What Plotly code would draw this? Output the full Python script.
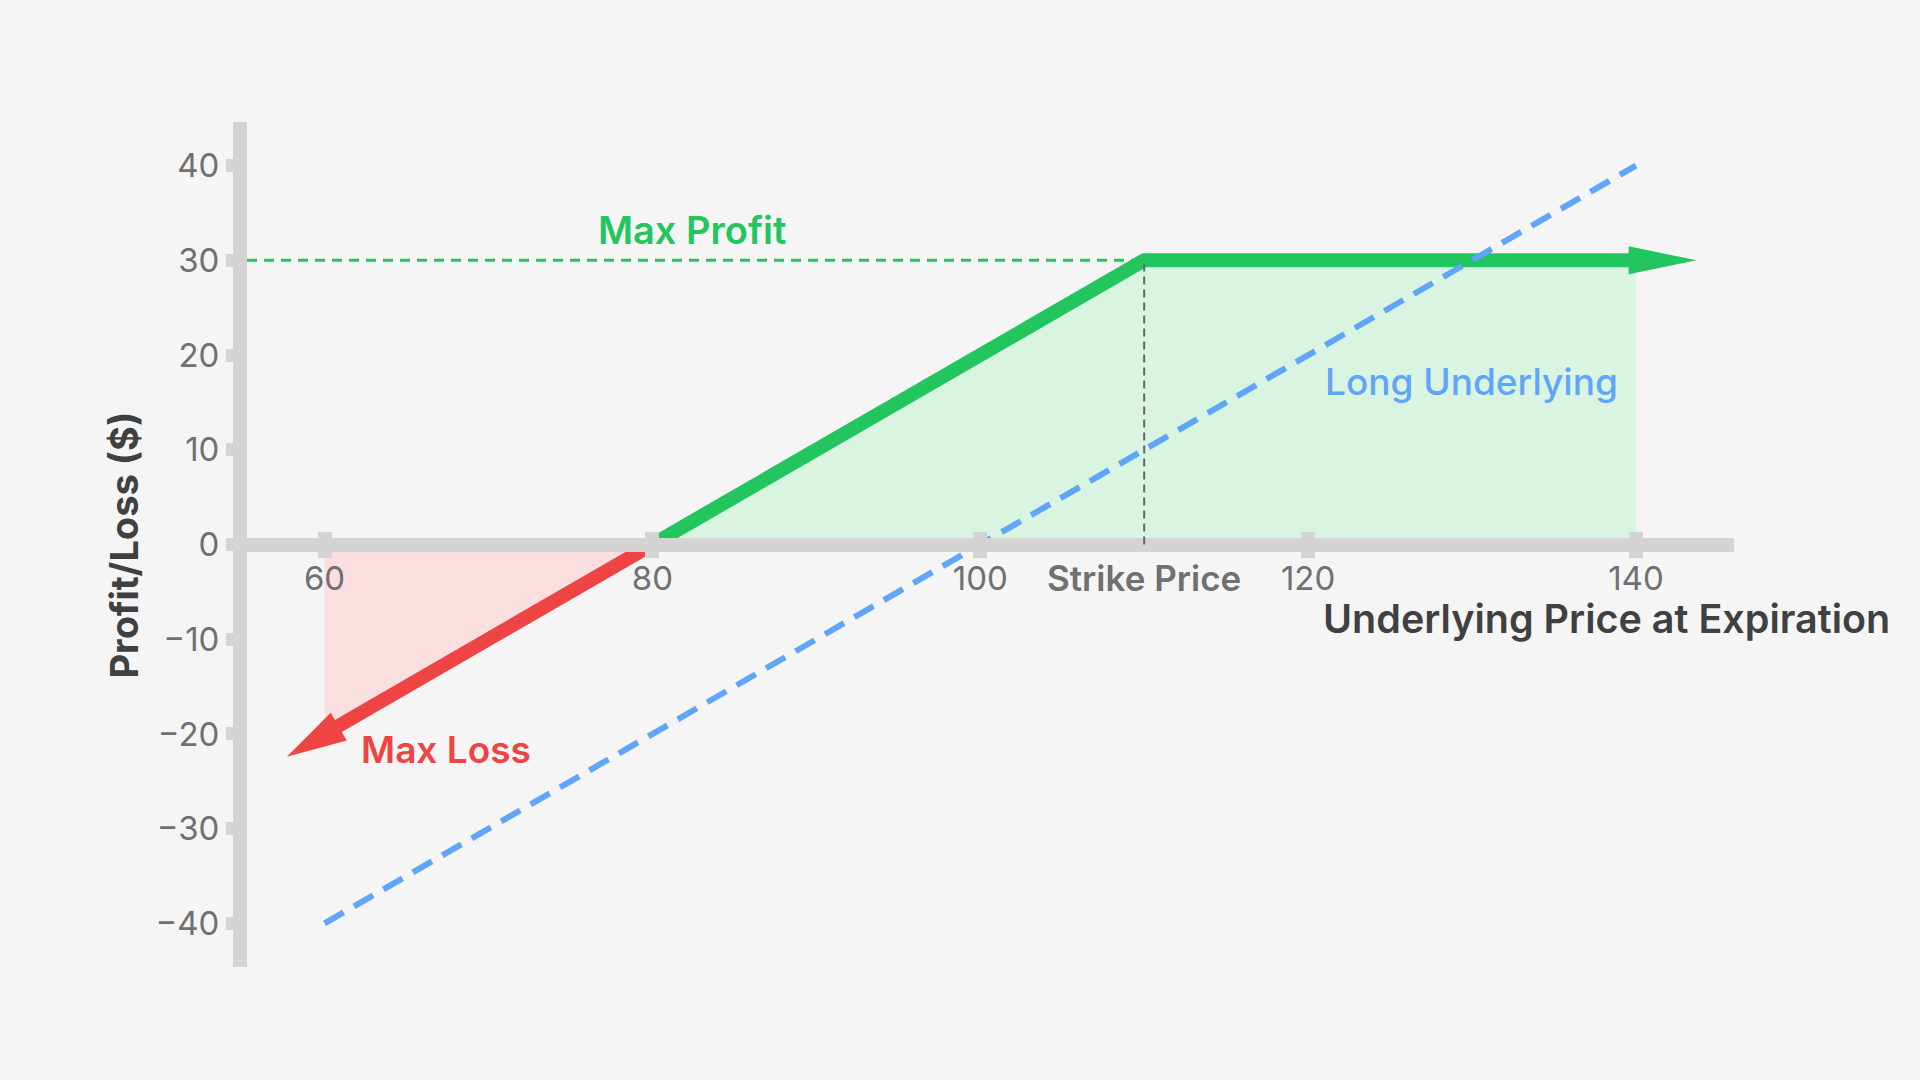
import plotly.graph_objects as go
import numpy as np

# ---------------- data ----------------
strategy_x = [80, 110, 140]          # payoff of the position (profit zone)
strategy_y = [0, 30, 30]
loss_x = [80, 60]                    # loss leg
loss_y = [0, -20]
underlying_x = [60, 140]             # long underlying reference line
underlying_y = [-40, 40]
strike_price = 110
max_profit = 30
green_arrow_tip = [143.7, 30]
red_arrow_tip = [57.7, -22.4]
x_ticks = [60, 80, 100, 120, 140]
y_ticks = [-40, -30, -20, -10, 0, 10, 20, 30, 40]

# ---------------- layout constants ----------------
W, H = 1920, 1080
ML, MR, MT, MB = 247, 186, 122, 113
X_RANGE = [55.27, 145.98]
Y_RANGE = [-44.6, 44.6]
SX = (W - ML - MR) / (X_RANGE[1] - X_RANGE[0])   # px per x unit
SY = (H - MT - MB) / (Y_RANGE[1] - Y_RANGE[0])   # px per y unit

GREEN = "#22c55e"
RED = "#ef4444"
BLUE = "#60a5fa"
AXIS = "#d4d4d4"
TICK = "#707070"
DARK = "#404040"
BG = "#f5f5f5"
FONT = "Inter"


def arrow_head(tip, frm, length_px, width_px):
    dx = (tip[0] - frm[0]) * SX
    dy = (tip[1] - frm[1]) * SY
    n = np.hypot(dx, dy)
    ux, uy = dx / n, dy / n
    px, py = -uy, ux
    bx = -ux * length_px
    by = -uy * length_px
    pts = [
        (0, 0),
        (bx + px * width_px / 2, by + py * width_px / 2),
        (bx - px * width_px / 2, by - py * width_px / 2),
        (0, 0),
    ]
    xs = [tip[0] + p[0] / SX for p in pts]
    ys = [tip[1] + p[1] / SY for p in pts]
    return xs, ys


fig = go.Figure()

# fills
fig.add_trace(go.Scatter(x=strategy_x, y=strategy_y, mode="lines", line=dict(width=0),
                         fill="tozeroy", fillcolor="#d9f5e2", hoverinfo="skip"))
fig.add_trace(go.Scatter(x=loss_x, y=loss_y, mode="lines", line=dict(width=0),
                         fill="tozeroy", fillcolor="#fbdfe0", hoverinfo="skip"))

# payoff lines
fig.add_trace(go.Scatter(x=strategy_x, y=strategy_y, mode="lines",
                         line=dict(color=GREEN, width=14), hoverinfo="skip"))
fig.add_trace(go.Scatter(x=loss_x, y=loss_y, mode="lines",
                         line=dict(color=RED, width=14), hoverinfo="skip"))

# arrow heads
gx, gy = arrow_head(green_arrow_tip, [strategy_x[-2], strategy_y[-2]], 68, 28)
fig.add_trace(go.Scatter(x=gx, y=gy, mode="lines", fill="toself", fillcolor=GREEN,
                         line=dict(width=0, color=GREEN), hoverinfo="skip"))
rx, ry = arrow_head(red_arrow_tip, [loss_x[0], loss_y[0]], 60, 32)
fig.add_trace(go.Scatter(x=rx, y=ry, mode="lines", fill="toself", fillcolor=RED,
                         line=dict(width=0, color=RED), hoverinfo="skip"))

# long underlying dashed
fig.add_trace(go.Scatter(x=underlying_x, y=underlying_y, mode="lines",
                         line=dict(color=BLUE, width=6, dash="22px,12px"), hoverinfo="skip"))

# invisible trace to activate the second x axis (upper half of tick stubs)
fig.add_trace(go.Scatter(x=[x_ticks[0]], y=[0], xaxis="x2", mode="markers",
                         marker=dict(opacity=0), hoverinfo="skip"))

# reference lines
fig.add_shape(type="line", xref="x", yref="y", x0=X_RANGE[0], x1=strike_price,
              y0=max_profit, y1=max_profit, layer="below",
              line=dict(color=GREEN, width=3, dash="10px,7px"))
fig.add_shape(type="line", xref="x", yref="y", x0=strike_price, x1=strike_price,
              y0=0, y1=max_profit, line=dict(color="#666666", width=2, dash="8px,5px"))

# annotations
fig.add_annotation(x=82.4, y=33.2, text="Max Profit", showarrow=False, xanchor="center",
                   font=dict(family=FONT, size=38, color=GREEN, weight=600))
fig.add_annotation(x=62.1, y=-21.6, text="Max Loss", showarrow=False, xanchor="left",
                   font=dict(family=FONT, size=37, color=RED, weight=600))
fig.add_annotation(x=139.0, y=17.2, text="Long Underlying", showarrow=False, xanchor="right",
                   font=dict(family=FONT, size=37, color=BLUE, weight=500))
fig.add_annotation(x=strike_price, y=-3.5, text="Strike Price", showarrow=False,
                   xanchor="center",
                   font=dict(family=FONT, size=35, color=TICK, weight=600))
fig.add_annotation(xref="paper", x=(1892 - ML) / (W - ML - MR), y=-7.9, yref="y",
                   text="Underlying Price at Expiration", showarrow=False, xanchor="right",
                   font=dict(family=FONT, size=39.5, color=DARK, weight=600))
fig.add_annotation(xref="paper", x=(123 - ML) / (W - ML - MR), y=0, yref="y",
                   text="Profit/Loss ($)", showarrow=False, textangle=-90,
                   xanchor="center", yanchor="middle",
                   font=dict(family=FONT, size=38, color=DARK, weight=700))

fig.update_layout(
    width=W, height=H,
    margin=dict(l=ML, r=MR, t=MT, b=MB),
    paper_bgcolor=BG, plot_bgcolor=BG,
    showlegend=False,
    xaxis=dict(range=X_RANGE, anchor="free", position=0.5,
               showline=True, linewidth=14, linecolor=AXIS,
               showgrid=False, zeroline=False, tickvals=x_ticks,
               ticks="outside", ticklen=6, tickwidth=14, tickcolor=AXIS,
               ticklabelstandoff=-7,
               tickfont=dict(family=FONT, size=33, color=TICK)),
    xaxis2=dict(range=X_RANGE, overlaying="x", anchor="free", position=0.5,
                showline=False, showgrid=False, zeroline=False, tickvals=x_ticks,
                ticks="inside", ticklen=13, tickwidth=14, tickcolor=AXIS,
                showticklabels=False),
    yaxis=dict(range=Y_RANGE, showline=True, linewidth=14, linecolor=AXIS,
               showgrid=False, zeroline=False,
               tickvals=y_ticks, ticks="outside", ticklen=7, tickwidth=13, tickcolor=AXIS,
               tickfont=dict(family=FONT, size=33, color=TICK)),
)

fig.write_html("out.html", post_script="document.body.style.margin='0';",
               config={"displayModeBar": False})
